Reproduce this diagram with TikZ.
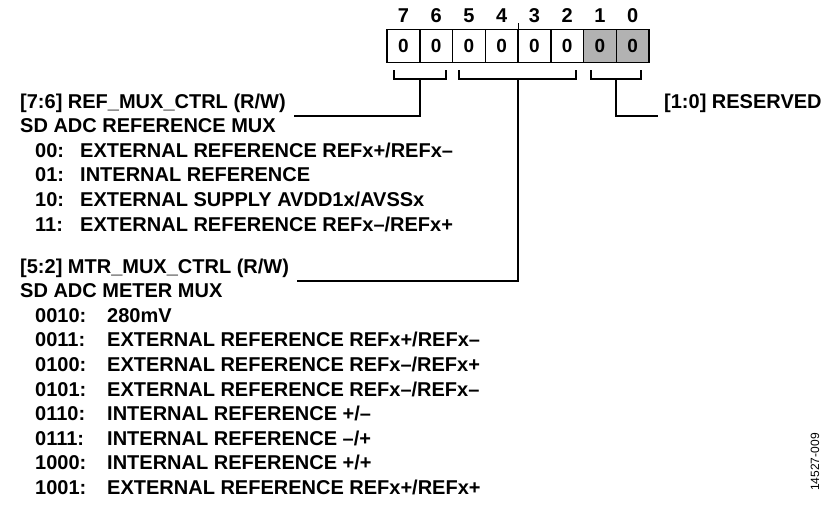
\documentclass[tikz,border=0pt]{standalone}
\usepackage{fontspec}
\setmainfont{Liberation Sans}
\begin{document}
\begin{tikzpicture}[x=1pt,y=-1pt,
	cell/.style={draw,line width=1.5pt,minimum width=32.7pt,minimum height=33pt,inner sep=0pt,font=\bfseries\fontsize{19}{21}\selectfont},
	txt/.style={anchor=base west,inner sep=0pt,font=\bfseries\fontsize{20}{22}\selectfont},
	lead/.style={line width=1.5pt}]
	\useasboundingbox (0,0) rectangle (831,506);
	% register cells
	\foreach \b in {7,...,0}{
		\pgfmathsetmacro{\cx}{387+32.75*(7-\b)+16.4}
		\ifnum\b<2 \def\fc{gray!60}\else\def\fc{white}\fi
		\node[cell,fill=\fc] (c\b) at (\cx,46) {0};
		\node[txt,anchor=base] (n\b) at (\cx,22) {\b};
	}
	\draw[line width=1pt] (c4.north east) -- ++(0,-6);
	% brackets
	\draw[lead] (394,70) -- (394,79) -- (446,79) -- (446,70);
	\draw[lead] (459,70) -- (459,79) -- (576,79) -- (576,70);
	\draw[lead] (591,70) -- (591,79) -- (641,79) -- (641,70);
	% field labels
	\node[txt] (f76) at (20,108) {[7:6] REF\_MUX\_CTRL (R/W)};
	\node[txt] (f52) at (20,273) {[5:2] MTR\_MUX\_CTRL (R/W)};
	\node[txt] (f10) at (664,108) {[1:0] RESERVED};
	\coordinate (b76) at (420,79);
	\coordinate (b52) at (518,79);
	\coordinate (b10) at (616,79);
	\draw[lead] (b76) |- ([xshift=8pt,yshift=-8pt]f76.base east);
	\draw[lead] (b52) |- ([xshift=8pt,yshift=-8pt]f52.base east);
	\draw[lead] (b10) |- ([xshift=-6pt,yshift=-8pt]f10.base west);
	% descriptions
	\node[txt] (d76) at (20,132.6) {SD ADC REFERENCE MUX};
	\foreach \c/\t [count=\i] in {00/{EXTERNAL REFERENCE REFx+/REFx–},01/{INTERNAL REFERENCE},10/{EXTERNAL SUPPLY AVDD1x/AVSSx},11/{EXTERNAL REFERENCE REFx–/REFx+}}{
		\node[txt] (a\i) at (35,132.6+24.6*\i) {\c:};
		\node[txt] (at\i) at (80,132.6+24.6*\i) {\t};
	}
	\node[txt] (d52) at (20,297.6) {SD ADC METER MUX};
	\foreach \c/\t [count=\i] in {0010/{280mV},0011/{EXTERNAL REFERENCE REFx+/REFx–},0100/{EXTERNAL REFERENCE REFx–/REFx+},0101/{EXTERNAL REFERENCE REFx–/REFx–},0110/{INTERNAL REFERENCE +/–},0111/{INTERNAL REFERENCE –/+},1000/{INTERNAL REFERENCE +/+},1001/{EXTERNAL REFERENCE REFx+/REFx+}}{
		\node[txt] (m\i) at (35,297.6+24.6*\i) {\c:};
		\node[txt] (mt\i) at (107,297.6+24.6*\i) {\t};
	}
	\node[rotate=90,inner sep=0pt,font=\fontsize{12}{14}\selectfont] (fig) at (815,462) {14527-009};
\end{tikzpicture}
\end{document}
